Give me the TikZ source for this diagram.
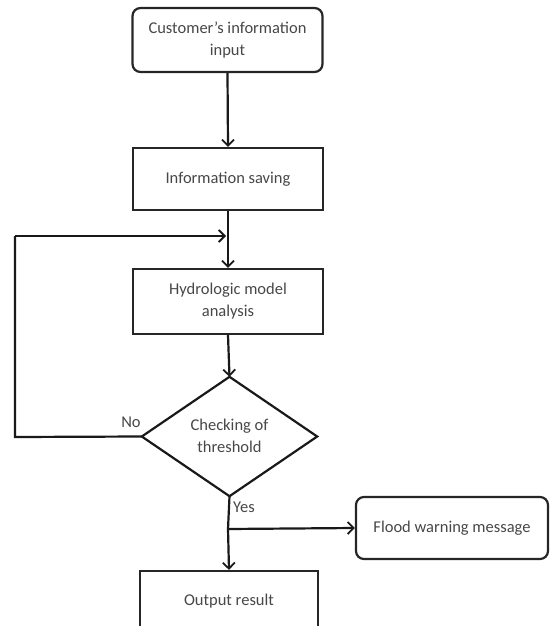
\documentclass[tikz,border=0pt]{standalone}
\usepackage{fontspec}
\setmainfont{Carlito}
\usetikzlibrary{shapes.geometric,arrows.meta}
\begin{document}
\begin{tikzpicture}[x=1pt,y=-1pt,
  every node/.style={font=\fontsize{16.5}{22}\selectfont, text=black!72},
  box/.style={draw=black!85, line width=2.2pt, minimum width=#1, align=center, inner sep=0pt},
  rbox/.style={draw=black!85, line width=2.2pt, rounded corners=8pt, align=center, inner sep=0pt},
  conn/.style={draw=black!90, line width=2.2pt},
  arr/.style={conn, -{Straight Barb[length=6pt,width=12pt,line width=1.8pt]}},
  lbl/.style={font=\fontsize{16.5}{20}\selectfont, text=black!72}]
\useasboundingbox (0,0) rectangle (552,626);
\node[rbox, minimum width=190pt, minimum height=64pt] (input) at (227.5,40) {Customer's information\\input};
\node[box=190pt, minimum height=62pt] (save) at (228,179) {Information saving};
\node[box=190pt, minimum height=65pt] (hydro) at (228,301.5) {Hydrologic model\\analysis};
\node[draw=none, minimum width=175pt, minimum height=119pt, inner sep=0pt] (chkbb) at (229.5,436.5) {};
\draw[conn, line join=miter] (chkbb.north) -- (chkbb.east) -- (chkbb.south) -- (chkbb.west) -- cycle;
\node[align=center] (chk) at (229.5,436) {Checking of\\threshold};
\node[rbox, minimum width=192pt, minimum height=62pt] (flood) at (452,528) {Flood warning message};
\node[draw=black!85, line width=2.2pt, minimum width=178pt, minimum height=60pt, inner sep=0pt] (out) at (229,601) {Output result};
\coordinate (loopL) at (15,236);
\coordinate (loopB) at (15,437);
\coordinate (join) at (228,236);
\coordinate (split) at (228,529);
\draw[arr] (input.south) -- (save.north);
\draw[conn] (save.south) -- (join);
\draw[arr] (join) -- (hydro.north);
\draw[arr] (hydro.south) -- (chkbb.north);
\draw[conn] (chkbb.west) -- (loopB) -- (loopL);
\draw[arr] (loopL) -- ([xshift=-2pt]join);
\draw[conn] (chkbb.south) -- (split);
\draw[arr] (split) -- (out.north);
\draw[arr] (split) -- (flood.west);
\node[lbl] (no) at (131,422) {No};
\node[lbl] (yes) at (244,507) {Yes};
\end{tikzpicture}
\end{document}
